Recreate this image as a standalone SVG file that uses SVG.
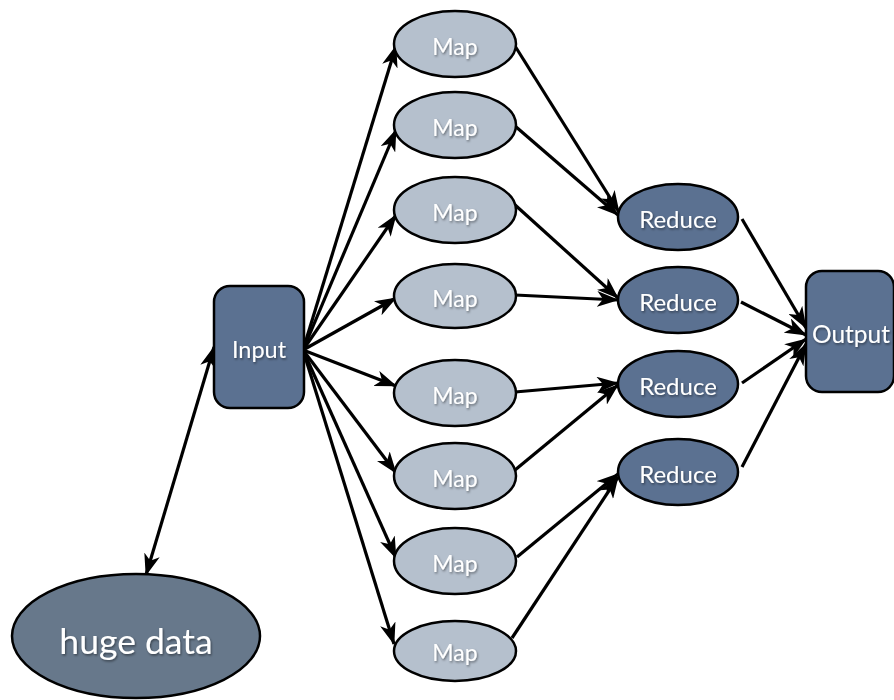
<svg xmlns="http://www.w3.org/2000/svg" width="894" height="700" viewBox="0 0 894 700">
  <defs>
    <marker id="arrow" viewBox="0 0 22 16" refX="21" refY="8" markerWidth="22" markerHeight="16" markerUnits="userSpaceOnUse" orient="auto-start-reverse">
      <path d="M0,0 L22,8 L0,16 L6,8 Z" fill="#000"/>
    </marker>
    <filter id="txtShadow" x="-20%" y="-30%" width="140%" height="160%">
      <feDropShadow dx="1" dy="1.5" stdDeviation="1" flood-color="#000" flood-opacity="0.45"/>
    </filter>
  </defs>
  <style>
    .map { fill: #b5c0cd; stroke: #000; stroke-width: 2.5; }
    .dark { fill: #5b7191; stroke: #000; stroke-width: 2.5; }
    .data { fill: #67788b; stroke: #000; stroke-width: 2.5; }
    .lbl { fill: #fff; font-family: Lato, "Open Sans", "Liberation Sans", sans-serif; text-anchor: middle; dominant-baseline: central; filter: url(#txtShadow); }
    .edge { stroke: #000; stroke-width: 3.2; fill: none; marker-end: url(#arrow); }
  </style>
  <rect width="894" height="700" fill="#fff"/>

  <!-- connectors -->
  <g id="connectors">
    <!-- input <-> huge data -->
    <line class="edge" x1="214" y1="347" x2="146" y2="575" marker-start="url(#arrow)"/>
    <!-- input -> maps -->
    <line class="edge" x1="303" y1="350" x2="396" y2="46"/>
    <line class="edge" x1="303" y1="350" x2="396" y2="130"/>
    <line class="edge" x1="303" y1="350" x2="396" y2="215"/>
    <line class="edge" x1="303" y1="350" x2="396" y2="298"/>
    <line class="edge" x1="303" y1="350" x2="396" y2="386"/>
    <line class="edge" x1="303" y1="350" x2="396" y2="473"/>
    <line class="edge" x1="303" y1="350" x2="396" y2="558"/>
    <line class="edge" x1="303" y1="350" x2="394" y2="644"/>
    <!-- maps -> reduces -->
    <line class="edge" x1="515" y1="46" x2="619" y2="212"/>
    <line class="edge" x1="515" y1="126" x2="618" y2="215"/>
    <line class="edge" x1="514" y1="204" x2="618" y2="298"/>
    <line class="edge" x1="515" y1="295" x2="618" y2="300"/>
    <line class="edge" x1="515" y1="392" x2="618" y2="383"/>
    <line class="edge" x1="515" y1="470" x2="618" y2="385"/>
    <line class="edge" x1="517" y1="557" x2="618" y2="474"/>
    <line class="edge" x1="512" y1="638" x2="618" y2="477"/>
    <!-- reduces -> output -->
    <line class="edge" x1="742" y1="219" x2="806" y2="328"/>
    <line class="edge" x1="741" y1="302" x2="806" y2="335"/>
    <line class="edge" x1="742" y1="383" x2="806" y2="339"/>
    <line class="edge" x1="742" y1="467" x2="806" y2="344"/>
  </g>

  <g id="input">
    <rect class="dark" x="214" y="286" width="90" height="122" rx="16"/>
    <text class="lbl" x="259" y="349" font-size="23.5">Input</text>
  </g>
  <g id="output">
    <rect class="dark" x="806" y="271" width="88" height="121" rx="16"/>
    <text class="lbl" x="851" y="333" font-size="24.5">Output</text>
  </g>
  <g id="huge-data">
    <ellipse class="data" cx="136" cy="636" rx="124" ry="62"/>
    <text class="lbl" x="136" y="640" font-size="35.5">huge data</text>
  </g>

  <g id="map-1"><ellipse class="map" cx="455" cy="44" rx="61" ry="33"/><text class="lbl" x="455" y="46" font-size="23">Map</text></g>
  <g id="map-2"><ellipse class="map" cx="455" cy="125" rx="61" ry="33"/><text class="lbl" x="455" y="127" font-size="23">Map</text></g>
  <g id="map-3"><ellipse class="map" cx="455" cy="210" rx="61" ry="33"/><text class="lbl" x="455" y="212" font-size="23">Map</text></g>
  <g id="map-4"><ellipse class="map" cx="455" cy="296" rx="61" ry="32"/><text class="lbl" x="455" y="298" font-size="23">Map</text></g>
  <g id="map-5"><ellipse class="map" cx="455" cy="393" rx="61" ry="33"/><text class="lbl" x="455" y="395" font-size="23">Map</text></g>
  <g id="map-6"><ellipse class="map" cx="455" cy="476" rx="61" ry="33"/><text class="lbl" x="455" y="478" font-size="23">Map</text></g>
  <g id="map-7"><ellipse class="map" cx="455" cy="561" rx="61" ry="33"/><text class="lbl" x="455" y="563" font-size="23">Map</text></g>
  <g id="map-8"><ellipse class="map" cx="455" cy="651" rx="61" ry="30"/><text class="lbl" x="455" y="652" font-size="23">Map</text></g>

  <g id="reduce-1"><ellipse class="dark" cx="678" cy="217" rx="60" ry="33"/><text class="lbl" x="678" y="218" font-size="24">Reduce</text></g>
  <g id="reduce-2"><ellipse class="dark" cx="678" cy="300" rx="60" ry="33"/><text class="lbl" x="678" y="301" font-size="24">Reduce</text></g>
  <g id="reduce-3"><ellipse class="dark" cx="678" cy="384" rx="60" ry="33"/><text class="lbl" x="678" y="385" font-size="24">Reduce</text></g>
  <g id="reduce-4"><ellipse class="dark" cx="678" cy="472" rx="60" ry="33"/><text class="lbl" x="678" y="473" font-size="24">Reduce</text></g>
</svg>
